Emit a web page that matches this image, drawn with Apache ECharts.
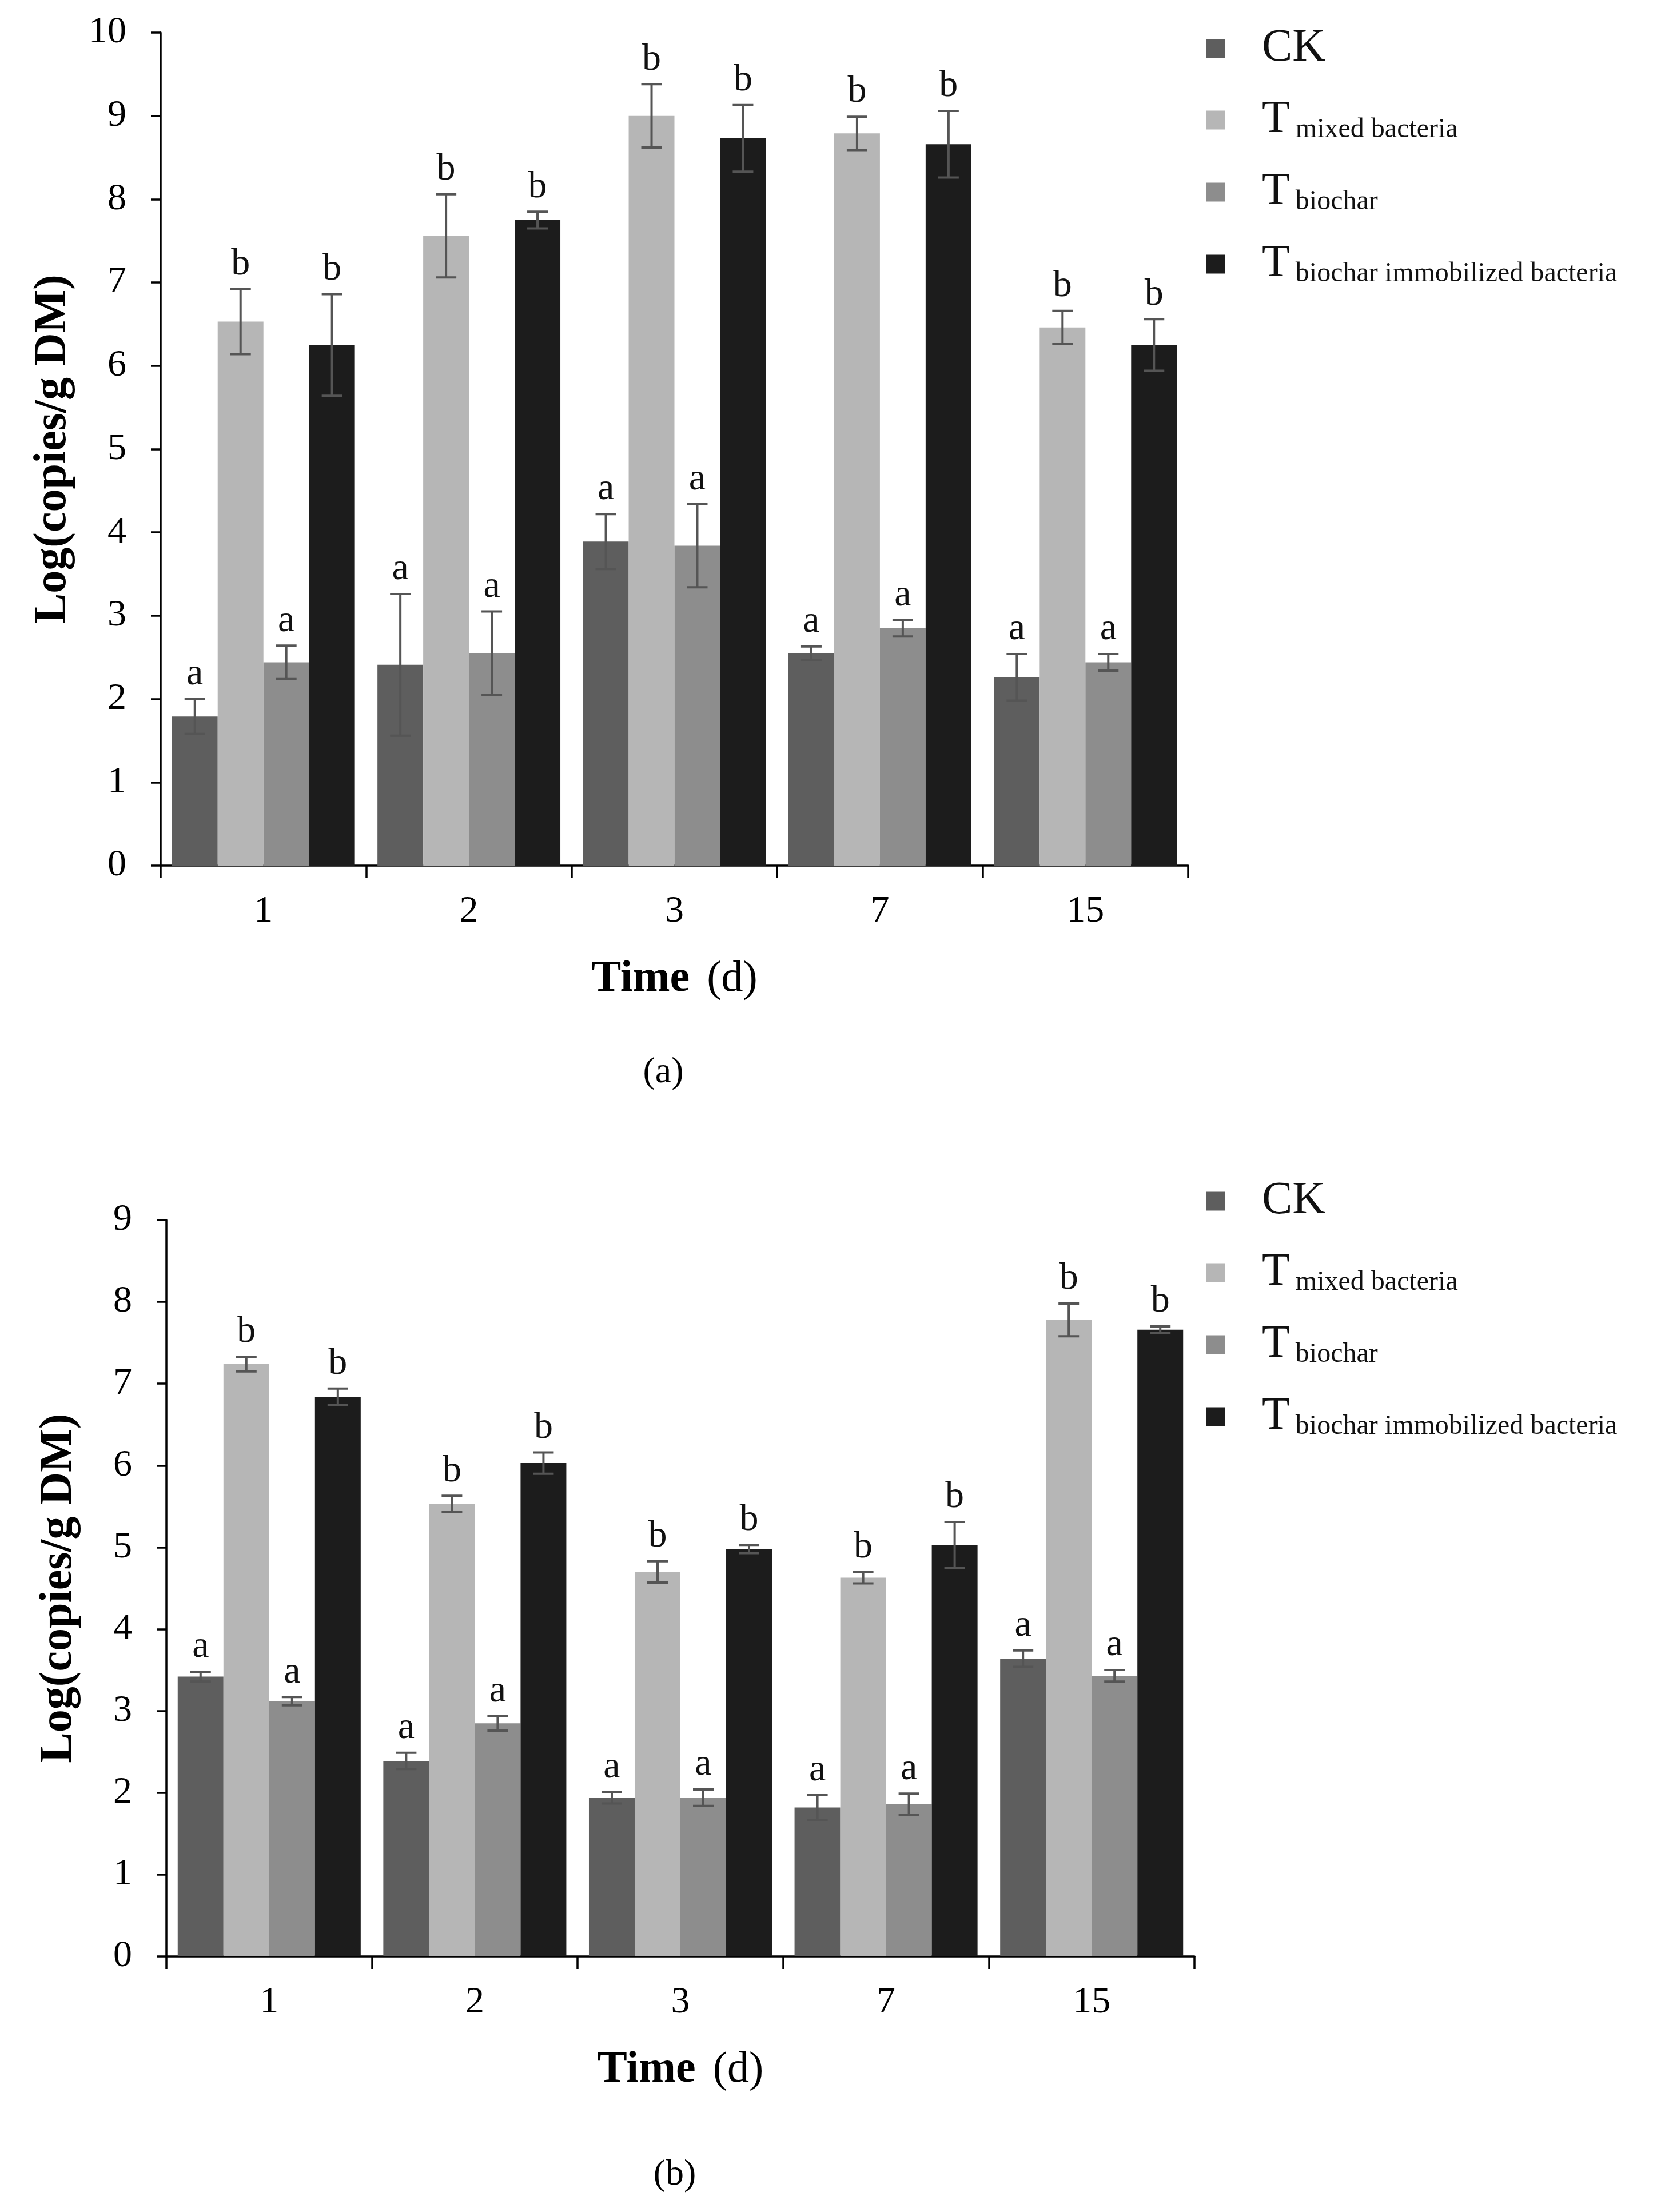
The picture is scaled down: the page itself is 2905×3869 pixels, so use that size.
<!DOCTYPE html>
<html>
<head>
<meta charset="utf-8">
<script src="https://cdn.jsdelivr.net/npm/echarts@6/dist/echarts.min.js"></script>
<style>
html,body{margin:0;padding:0;background:#fff;}
#chart{width:2905px;height:3869px;}
</style>
</head>
<body>
<div id="chart"></div>
<script>
// time points (d)
var days = ['1', '2', '3', '7', '15'];
var seriesNames = ['CK', 'T mixed bacteria', 'T biochar', 'T biochar immobilized bacteria'];
var letters = ['a', 'b', 'a', 'b'];

// (a) values + error bars
var ckA = [1.79, 2.41, 3.89, 2.55, 2.26];
var mixedA = [6.53, 7.56, 9.00, 8.79, 6.46];
var biocharA = [2.44, 2.55, 3.84, 2.85, 2.44];
var immobA = [6.25, 7.75, 8.73, 8.66, 6.25];
var ckErrA = [0.21, 0.85, 0.33, 0.08, 0.28];
var mixedErrA = [0.39, 0.50, 0.38, 0.20, 0.20];
var biocharErrA = [0.20, 0.50, 0.50, 0.10, 0.10];
var immobErrA = [0.61, 0.10, 0.40, 0.40, 0.31];

// (b) values + error bars
var ckB = [3.42, 2.39, 1.94, 1.82, 3.64];
var mixedB = [7.24, 5.53, 4.70, 4.63, 7.78];
var biocharB = [3.12, 2.85, 1.94, 1.86, 3.43];
var immobB = [6.84, 6.03, 4.98, 5.03, 7.66];
var ckErrB = [0.06, 0.10, 0.07, 0.15, 0.10];
var mixedErrB = [0.09, 0.10, 0.13, 0.07, 0.20];
var biocharErrB = [0.05, 0.09, 0.10, 0.13, 0.07];
var immobErrB = [0.10, 0.13, 0.05, 0.28, 0.04];

var yTicksA = [0, 10];
var yTicksB = [0, 9];

var colors = ['#5e5e5e', '#b6b6b6', '#8d8d8d', '#1c1c1c'];
var CAT_GAP = 0.11;
var serif = '"Liberation Serif", "DejaVu Serif", serif';

var myChart = echarts.init(document.getElementById('chart'));

function barSeries(k, vals, ax) {
  return {
    type: 'bar',
    name: seriesNames[k],
    xAxisIndex: ax,
    yAxisIndex: ax,
    data: vals,
    barGap: '0%',
    barCategoryGap: (CAT_GAP * 100) + '%',
    itemStyle: {color: colors[k]},
    silent: true
  };
}

// 误差线 + 字母
function errSeries(k, vals, errs, ax) {
  return {
    type: 'custom',
    xAxisIndex: ax,
    yAxisIndex: ax,
    z: 10,
    silent: true,
    data: vals.map(function (v, i) { return [i, v, errs[i]]; }),
    renderItem: function (params, api) {
      var cat = api.value(0), v = api.value(1), e = api.value(2);
      var band = api.size([1, 0])[0];
      var barW = band * (1 - CAT_GAP) / 4;
      var x = api.coord([cat, 0])[0] + (k - 1.5) * barW;
      var yTop = api.coord([cat, v + e])[1];
      var yBot = api.coord([cat, v - e])[1];
      var half = 18;
      var st = {stroke: '#555', lineWidth: 4};
      return {
        type: 'group',
        children: [
          {type: 'line', shape: {x1: x, y1: yTop, x2: x, y2: yBot}, style: st},
          {type: 'line', shape: {x1: x - half, y1: yTop, x2: x + half, y2: yTop}, style: st},
          {type: 'line', shape: {x1: x - half, y1: yBot, x2: x + half, y2: yBot}, style: st},
          {type: 'text', x: x, y: yTop - 10, style: {
            text: letters[k], fill: '#111', font: '66px ' + serif,
            align: 'center', verticalAlign: 'bottom'
          }}
        ]
      };
    }
  };
}

function legendFmt(name) {
  if (name === 'CK') return '{big|CK}';
  return '{big|T}{sub|' + name.substring(2) + '}';
}

function legendOpt(top) {
  return {
    orient: 'vertical',
    left: 2104,
    top: top,
    icon: 'rect',
    itemWidth: 33,
    itemHeight: 33,
    itemGap: 45,
    data: seriesNames,
    formatter: legendFmt,
    selectedMode: false,
    textStyle: {
      padding: [0, 0, 0, 60],
      rich: {
        big: {fontFamily: serif, fontSize: 80, color: '#111', lineHeight: 82},
        sub: {fontFamily: serif, fontSize: 48, color: '#111', verticalAlign: 'bottom', padding: [0, 0, 0, 10]}
      }
    }
  };
}

function xAxisOpt(gi) {
  return {
    type: 'category',
    gridIndex: gi,
    data: days,
    axisLine: {lineStyle: {color: '#000', width: 3.5}},
    axisTick: {show: true, length: 22, lineStyle: {color: '#000', width: 3.5}},
    axisLabel: {color: '#000', fontFamily: serif, fontSize: 66, margin: 48},
    name: '{b|Time}{r|(d)}',
    nameLocation: 'middle',
    nameGap: 160,
    nameTextStyle: {
      rich: {
        b: {fontFamily: serif, fontWeight: 'bold', fontSize: 78, color: '#000'},
        r: {fontFamily: serif, fontSize: 76, color: '#000', padding: [0, 0, 0, 30]}
      }
    }
  };
}

function yAxisOpt(gi, ticks) {
  return {
    type: 'value',
    gridIndex: gi,
    min: ticks[0],
    max: ticks[1],
    interval: 1,
    splitLine: {show: false},
    axisLine: {show: true, lineStyle: {color: '#000', width: 3.5}},
    axisTick: {show: true, length: 17, lineStyle: {color: '#000', width: 3.5}},
    axisLabel: {color: '#000', fontFamily: serif, fontSize: 66, margin: 60},
    name: 'Log(copies/g DM)',
    nameLocation: 'middle',
    nameGap: 148,
    nameTextStyle: {fontFamily: serif, fontWeight: 'bold', fontSize: 80, color: '#000'}
  };
}

var option = {
  backgroundColor: '#fff',
  animation: false,
  legend: [legendOpt(40), legendOpt(2056)],
  grid: [
    {left: 281, top: 57, width: 1797, height: 1457},
    {left: 291, top: 2134, width: 1798, height: 1288}
  ],
  xAxis: [xAxisOpt(0), xAxisOpt(1)],
  yAxis: [yAxisOpt(0, yTicksA), yAxisOpt(1, yTicksB)],
  graphic: [
    {type: 'text', x: 1160, y: 1876, style: {text: '(a)', font: '64px ' + serif, fill: '#000', align: 'center', verticalAlign: 'middle'}},
    {type: 'text', x: 1180, y: 3804, style: {text: '(b)', font: '64px ' + serif, fill: '#000', align: 'center', verticalAlign: 'middle'}}
  ],
  series: [
    barSeries(0, ckA, 0), barSeries(1, mixedA, 0), barSeries(2, biocharA, 0), barSeries(3, immobA, 0),
    barSeries(0, ckB, 1), barSeries(1, mixedB, 1), barSeries(2, biocharB, 1), barSeries(3, immobB, 1),
    errSeries(0, ckA, ckErrA, 0), errSeries(1, mixedA, mixedErrA, 0),
    errSeries(2, biocharA, biocharErrA, 0), errSeries(3, immobA, immobErrA, 0),
    errSeries(0, ckB, ckErrB, 1), errSeries(1, mixedB, mixedErrB, 1),
    errSeries(2, biocharB, biocharErrB, 1), errSeries(3, immobB, immobErrB, 1)
  ]
};
myChart.setOption(option);
</script>
</body>
</html>
